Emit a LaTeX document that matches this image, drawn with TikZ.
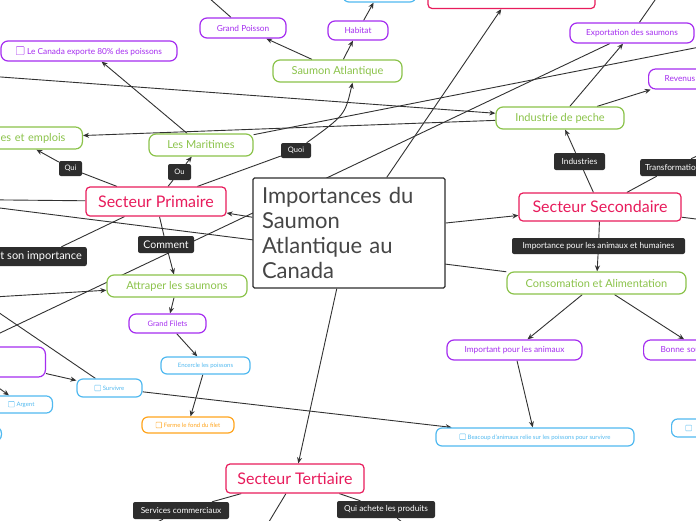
\documentclass[tikz,border=0pt]{standalone}
\usepackage{fontspec}
\setmainfont{Lato}
\usetikzlibrary{arrows.meta, backgrounds}

\definecolor{mmred}{RGB}{232,28,92}
\definecolor{mmgreen}{RGB}{139,195,74}
\definecolor{mmpurple}{RGB}{165,45,240}
\definecolor{mmcyan}{RGB}{80,185,240}
\definecolor{mmorange}{RGB}{255,165,30}
\definecolor{mmdark}{RGB}{45,45,45}
\definecolor{mmtext}{RGB}{70,70,70}
\definecolor{mmline}{RGB}{50,50,50}

\newcommand{\ckbox}{\tikz[baseline=0pt]\draw[line width=0.35pt, rounded corners=0.5pt] (0pt,-0.05em) rectangle (0.95em,0.9em);\hspace{0.35em}}

\tikzset{
  mmbox/.style={fill=white, line width=1.2pt, inner sep=0pt, align=center},
  centerbox/.style={mmbox, draw=mmdark, text=mmtext, rounded corners=1.5pt, minimum width=192pt, minimum height=110pt, text width=174pt, align=left, font=\fontsize{22}{25}\selectfont},
  redbox/.style={mmbox, draw=mmred, text=mmred, rounded corners=4pt, minimum height=29pt, font=\fontsize{16}{18}\selectfont},
  greenbox/.style={mmbox, draw=mmgreen, text=mmgreen, rounded corners=7pt, minimum height=22pt, font=\fontsize{11}{13}\selectfont},
  purplebox/.style={mmbox, draw=mmpurple, text=mmpurple, rounded corners=7pt, minimum height=20pt, font=\fontsize{8.3}{10}\selectfont},
  cyanbox/.style={mmbox, draw=mmcyan, text=mmcyan, rounded corners=6pt, minimum height=18pt, font=\fontsize{6}{7}\selectfont},
  orangebox/.style={cyanbox, draw=mmorange, text=mmorange},
  tag/.style={fill=mmdark, text=white, rounded corners=2pt, inner xsep=4pt, inner ysep=0pt, minimum height=16pt, font=\fontsize{8.3}{10}\selectfont},
  link/.style={draw=mmline, line width=0.9pt},
  arrowlink/.style={link, -{Stealth[length=6pt,width=5pt]}},
}

\begin{document}
\begin{tikzpicture}[x=1pt, y=-1pt]
  \useasboundingbox (0,0) rectangle (696,520);

  \node[centerbox] (center) at (349,233) {Importances du\\Saumon\\Atlantique au\\Canada};

  \node[redbox, minimum width=140pt] (secPrim) at (156,201.5) {Secteur Primaire};
  \node[redbox, minimum width=162pt, minimum height=28pt] (secSec) at (600,207) {Secteur Secondaire};
  \node[redbox, minimum width=138pt] (secTer) at (295,478.5) {Secteur Tertiaire};
  \node[redbox, minimum width=167pt] (topRed) at (511.5,-6) {};

  \node[greenbox, minimum width=129pt] (saumon) at (337.5,71) {Saumon Atlantique};
  \node[greenbox, minimum width=104pt] (maritimes) at (201,145) {Les Maritimes};
  \node[greenbox, anchor=east, text width=100pt, align=right, inner xsep=17pt] (emplois) at (83,138) {ies et emplois};
  \node[greenbox, minimum width=128pt] (industrie) at (560,118) {Industrie de peche};
  \node[greenbox, minimum width=140pt] (attraper) at (177,286) {Attraper les saumons};
  \node[greenbox, minimum width=179pt] (consom) at (596.5,283) {Consomation et Alimentation};

  \node[purplebox, minimum width=86pt] (grandPoisson) at (243,28) {Grand Poisson};
  \node[purplebox, minimum width=60pt, minimum height=19pt] (habitat) at (358,30.5) {Habitat};
  \node[purplebox, minimum width=176pt] (exporte) at (89,51) {\ckbox Le Canada exporte 80\% des poissons};
  \node[purplebox, minimum width=124pt] (exportation) at (632,33) {Exportation des saumons};
  \node[purplebox, anchor=west, text width=40pt, align=left, inner xsep=16pt] (revenus) at (648,79) {Revenus};
  \node[purplebox, minimum width=77pt, minimum height=19pt, font=\fontsize{7.5}{9}\selectfont] (grandFilets) at (167.5,323.5) {Grand Filets};
  \node[purplebox, minimum width=135pt] (importantAnim) at (514.5,350) {Important pour les animaux};
  \node[purplebox, anchor=west, text width=80pt, align=left, inner xsep=17pt] (bonne) at (643,350) {Bonne source};
  \node[purplebox, anchor=east, minimum width=100pt, minimum height=30pt] (leftPurple) at (46,362) {};

  \node[cyanbox, minimum width=73pt, minimum height=20pt] (cyanTop) at (379.5,-8) {};
  \node[cyanbox, minimum width=89pt, minimum height=17pt] (encercle) at (205.5,365.5) {Encercle les poissons};
  \node[cyanbox, minimum width=65pt] (survivre) at (109.5,388) {\ckbox Survivre};
  \node[cyanbox, anchor=east, minimum width=62pt, minimum height=17pt] (argent) at (53,404.5) {\ckbox Argent};
  \node[cyanbox, anchor=east, minimum width=40pt, minimum height=14pt] (leftCyan) at (2,434) {};
  \node[cyanbox, minimum width=198pt] (beaucoup) at (535,437) {\ckbox Beacoup d'animaux relie sur les poissons pour survivre};
  \node[cyanbox, anchor=west, text width=40pt, align=left, inner xsep=14pt] (rightCyan) at (671,428) {\ckbox};
  \node[orangebox, minimum width=92pt, minimum height=16pt] (ferme) at (188,425) {\ckbox Ferme le fond du filet};

  \node[tag, minimum width=23pt, minimum height=15pt, font=\fontsize{7.5}{9}\selectfont] (qui) at (70.5,168.5) {Qui};
  \node[tag, minimum width=23pt, font=\fontsize{7.5}{9}\selectfont] (ou) at (179.5,172) {Ou};
  \node[tag, minimum width=30pt, minimum height=15pt, font=\fontsize{7.5}{9}\selectfont] (quoi) at (296,150.5) {Quoi};
  \node[tag, minimum width=56pt, minimum height=17pt, font=\fontsize{10.5}{12}\selectfont] (comment) at (166,244.5) {Comment};
  \node[tag, anchor=east, minimum height=19pt, inner xsep=5pt, font=\fontsize{11}{13}\selectfont] (importance) at (87,256.5) {t son importance};
  \node[tag, minimum width=51pt, minimum height=17pt] (industries) at (579.5,161.5) {Industries};
  \node[tag, anchor=west, minimum height=17pt, inner xsep=5pt] (transf) at (640,167.5) {Transformation};
  \node[tag, minimum width=173pt] (impAnim) at (598.5,246) {Importance pour les animaux et humaines};
  \node[tag, minimum width=96pt, minimum height=17pt] (services) at (181,510.5) {Services commerciaux};
  \node[tag, minimum width=98pt, minimum height=17pt] (quiAchete) at (386,509.5) {Qui achete les produits};

  \coordinate (offA) at (720,43);
  \coordinate (offC) at (-40,74);
  \coordinate (offD) at (-40,352);
  \coordinate (offCons) at (-40,203);
  \coordinate (offPrim) at (-40,199.5);
  \coordinate (offAttr) at (-40,299);
  \coordinate (offSurv) at (-30,293);
  \coordinate (offArg) at (-12,380);
  \coordinate (offImp) at (-40,270);
  \coordinate (offGP) at (200,-10);
  \coordinate (offExp) at (662,-10);
  \coordinate (offSec) at (720,222);
  \coordinate (offTr) at (720,145);
  \coordinate (offTer) at (258,540);
  \coordinate (offServ) at (120,540);
  \coordinate (offQui) at (425,540);

  \begin{scope}[on background layer]
    \fill[white] (0,0) rectangle (696,520);
    \draw[arrowlink] (center) -- (secPrim);
    \draw[arrowlink] (center) -- (secSec);
    \draw[arrowlink] (center) -- (secTer);
    \draw[arrowlink] (center) -- (topRed);
    \draw[arrowlink] (secPrim) -- (qui) -- (emplois);
    \draw[arrowlink] (secPrim) -- (ou) -- (maritimes);
    \draw[arrowlink] (secPrim) -- (quoi) .. controls (345,115) .. ([xshift=15pt]saumon.south);
    \draw[arrowlink] (secPrim) -- (comment) -- (attraper);
    \draw[link] (secPrim) -- (importance) -- (offImp);
    \draw[link] (offPrim) -- (secPrim);
    \draw[arrowlink] (maritimes) -- (exporte);
    \draw[link] (maritimes) -- (offA);
    \draw[arrowlink] (saumon) -- (grandPoisson);
    \draw[arrowlink] (saumon) -- (habitat);
    \draw[arrowlink] (habitat) -- (cyanTop);
    \draw[link] (grandPoisson) -- (offGP);
    \draw[arrowlink] (industrie) -- (emplois);
    \draw[arrowlink] (offC) -- (industrie);
    \draw[arrowlink] (industrie) -- (exportation);
    \draw[arrowlink] (industrie) -- (revenus);
    \draw[link] (offD) -- (exportation);
    \draw[link] (exportation) -- (offExp);
    \draw[arrowlink] (secSec) -- (industries) -- (industrie);
    \draw[link] (secSec) -- (transf) -- (offTr);
    \draw[link] (secSec) -- (offSec);
    \draw[arrowlink] (secSec) -- (impAnim) -- (consom);
    \draw[link] (offCons) -- (consom);
    \draw[arrowlink] (consom) -- (importantAnim);
    \draw[arrowlink] (consom) -- (bonne);
    \draw[arrowlink] (importantAnim) -- (beaucoup);
    \draw[arrowlink] (offAttr) -- (attraper);
    \draw[arrowlink] (attraper) -- (grandFilets);
    \draw[arrowlink] (grandFilets) -- (encercle);
    \draw[arrowlink] (encercle) -- (ferme);
    \draw[link] (offSurv) -- (survivre);
    \draw[arrowlink] (leftPurple) -- (survivre);
    \draw[arrowlink] (offArg) -- (argent);
    \draw[arrowlink] (survivre) -- (beaucoup);
    \draw[link] (secTer) -- (services) -- (offServ);
    \draw[link] (secTer) -- (offTer);
    \draw[link] (secTer) -- (quiAchete) -- (offQui);
  \end{scope}
\end{tikzpicture}
\end{document}
